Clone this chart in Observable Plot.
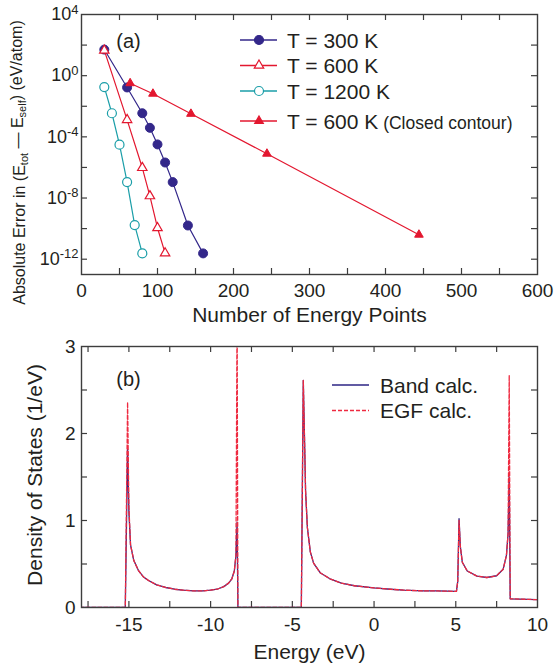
<!DOCTYPE html>
<html>
<head>
<meta charset="utf-8">
<script src="https://cdn.jsdelivr.net/npm/d3@7"></script>
<script src="https://cdn.jsdelivr.net/npm/@observablehq/plot@0.6"></script>
<style>
  body { margin: 0; background: #fff; }
  #chart { width: 554px; height: 668px; font-family: "Liberation Sans", Arial, sans-serif; color: #231f20; }
  svg { display: block; }
</style>
</head>
<body>
<div id="chart"></div>
<script>
// ---------------- Panel (a) data ----------------
const seriesNames = ["T = 300 K", "T = 600 K", "T = 1200 K", "T = 600 K", "(Closed contour)"];
const nPts300 = [30, 60, 80, 90, 100, 110, 120, 140, 160];
const err300 = [51, 0.17, 3.5e-3, 3.9e-4, 3.2e-5, 2.1e-6, 1.1e-7, 1.6e-10, 2.4e-12];
const nPts600 = [30, 60, 80, 90, 100, 110];
const err600 = [45, 1.3e-3, 9.5e-7, 1.35e-8, 1.1e-10, 2.5e-12];
const nPts1200 = [30, 40, 50, 60, 70, 80];
const err1200 = [0.18, 3.5e-3, 3.1e-5, 1.1e-7, 1.7e-10, 2.4e-12];
const nPtsClosed = [64, 94, 144, 244, 444];
const errClosed = [0.32, 0.066, 3.2e-3, 7.9e-6, 4.0e-11];
const xTickLabelsA = [0, 100, 200, 300, 400, 500, 600];
const xTickMarksA = [50, 100, 150, 200, 250, 300, 350, 400, 450, 500, 550];
const yTickLabelsA = [1e4, 1, 1e-4, 1e-8, 1e-12];
const yTickMarksA = [1e2, 1, 1e-2, 1e-4, 1e-6, 1e-8, 1e-10, 1e-12];

// ---------------- Panel (b) data ----------------
const energy = [-18, -15.22, -15.08, -15.0, -14.9, -14.7, -14.4, -14.1, -13.8, -13.3, -12.75, -12.2, -11.7, -11.0, -10.5, -10.0, -9.6, -9.2, -8.9, -8.7, -8.55, -8.45, -8.38, -8.33,
  -4.45, -4.33, -4.25, -4.19, -4.08, -3.9, -3.7, -3.3, -2.7, -2.0, -1.2, 0, 1.0, 1.8, 3.0, 3.9, 5.04, 5.12, 5.2, 5.28, 5.4, 5.7, 6.3, 6.9, 7.5, 7.9, 8.1, 8.2, 8.27, 8.33, 10];
const dosBand = [0, 0, 1.82, 1.1, 0.72, 0.54, 0.42, 0.35, 0.31, 0.26, 0.23, 0.21, 0.2, 0.19, 0.19, 0.2, 0.21, 0.24, 0.28, 0.33, 0.42, 0.6, 0.98, 0,
  0, 2.61, 1.9, 1.34, 0.92, 0.64, 0.51, 0.4, 0.33, 0.28, 0.25, 0.225, 0.21, 0.2, 0.19, 0.19, 0.185, 0.3, 1.02, 0.7, 0.52, 0.42, 0.36, 0.345, 0.365, 0.44, 0.6, 0.85, 1.5, 0.1, 0.09];
const dosEGF = [0, 0, 2.36, 1.15, 0.72, 0.54, 0.42, 0.35, 0.31, 0.26, 0.23, 0.21, 0.2, 0.19, 0.19, 0.2, 0.21, 0.24, 0.28, 0.33, 0.42, 0.6, 3.4, 0,
  0, 2.61, 1.9, 1.34, 0.92, 0.64, 0.51, 0.4, 0.33, 0.28, 0.25, 0.225, 0.21, 0.2, 0.19, 0.19, 0.185, 0.3, 1.0, 0.7, 0.52, 0.42, 0.36, 0.345, 0.365, 0.44, 0.6, 0.85, 2.67, 0.1, 0.09];
const bandLegend = ["Band calc.", "EGF calc."];
const xTickLabelsB = [-15, -10, -5, 0, 5, 10];
const xTickMarksB = [-17.5, -15, -12.5, -10, -7.5, -5, -2.5, 0, 2.5, 5, 7.5];
const yTickLabelsB = [0, 1, 2, 3];
const yTickMarksB = [0.5, 1, 1.5, 2, 2.5];

// ---------------- styles ----------------
const FONT = "Liberation Sans, Arial, sans-serif";
const INK = "#231f20";
const FRAME = "#3d3d3d";
const C300 = "#33278a";
const CRED = "#e3172f";
const CTEAL = "#1a9ea8";
const CBAND = "#2c2585";
const CEGF = "#ee2a40";
const TICK = 6;
const W = 554;

const zip = (xs, ys, kx, ky) => xs.map((x, i) => ({[kx]: x, [ky]: ys[i]}));
const d300 = zip(nPts300, err300, "n", "err");
const d600 = zip(nPts600, err600, "n", "err");
const d1200 = zip(nPts1200, err1200, "n", "err");
const dClosed = zip(nPtsClosed, errClosed, "n", "err");
const dos = energy.map((e, i) => ({e, band: dosBand[i], egf: dosEGF[i]}));

const chart = document.getElementById("chart");

// ---------------- Panel (a) ----------------
const A = {h: 325, top: 14, bottom: 51, left: 81, right: 17};
const iwA = W - A.left - A.right, ihA = A.h - A.top - A.bottom;
const rDot = 4.5, rTri = 3.2;
const yLabelA = "Absolute Error in (E_tot — E_self) (eV/atom)";

const plotA = Plot.plot({
  width: W, height: A.h,
  marginTop: A.top, marginBottom: A.bottom, marginLeft: A.left, marginRight: A.right,
  style: {fontFamily: FONT, fontSize: "19px", color: INK, background: "white", overflow: "visible"},
  x: {domain: [0, 600], ticks: xTickLabelsA, tickSize: 0, tickPadding: 9, label: null},
  y: {type: "log", domain: [1e-13, 1e4], ticks: yTickLabelsA, tickSize: 0, tickPadding: 3, label: null,
      tickFormat: d => "10^" + Math.round(Math.log10(d))},
  marks: [
    Plot.tickX(xTickMarksA, {x: d => d, insetTop: ihA - TICK, stroke: FRAME, strokeWidth: 1.2}),
    Plot.tickX(xTickMarksA, {x: d => d, insetBottom: ihA - TICK, stroke: FRAME, strokeWidth: 1.2}),
    Plot.tickY(yTickMarksA, {y: d => d, insetRight: iwA - TICK, stroke: FRAME, strokeWidth: 1.2}),
    Plot.tickY(yTickMarksA, {y: d => d, insetLeft: iwA - TICK, stroke: FRAME, strokeWidth: 1.2}),
    Plot.line(d300, {x: "n", y: "err", stroke: C300, strokeWidth: 1.2}),
    Plot.dot(d300, {x: "n", y: "err", r: rDot, fill: C300, stroke: C300, strokeWidth: 1}),
    Plot.line(d1200, {x: "n", y: "err", stroke: CTEAL, strokeWidth: 1.2}),
    Plot.dot(d1200, {x: "n", y: "err", r: rDot, fill: "white", stroke: CTEAL, strokeWidth: 1.2}),
    Plot.line(dClosed, {x: "n", y: "err", stroke: CRED, strokeWidth: 1.2}),
    Plot.dot(dClosed, {x: "n", y: "err", symbol: "triangle", r: rTri, fill: CRED, stroke: CRED, strokeWidth: 1}),
    Plot.line(d600, {x: "n", y: "err", stroke: CRED, strokeWidth: 1.2}),
    Plot.dot(d600, {x: "n", y: "err", symbol: "triangle", r: rTri + 0.3, fill: "white", stroke: CRED, strokeWidth: 1.2}),
    Plot.frame({stroke: FRAME, strokeWidth: 1.4}),
    Plot.text(["(a)"], {frameAnchor: "top-left", dx: 47, dy: 27, textAnchor: "middle", lineAnchor: "middle", fontSize: 20, fill: INK}),
    Plot.text(["Number of Energy Points"], {frameAnchor: "bottom", dy: 41, textAnchor: "middle", lineAnchor: "middle", fontSize: 21, fill: INK}),
    Plot.text([yLabelA], {frameAnchor: "left", rotate: -90, dx: -62, dy: 18, textAnchor: "middle", lineAnchor: "middle", fontSize: 16, fill: INK})
  ]
});
chart.appendChild(plotA);

// superscripts on log tick labels
d3.select(plotA).selectAll('g[aria-label="y-axis tick label"] text').each(function () {
  const t = d3.select(this);
  const s = this.textContent;
  if (!s.includes("^")) return;
  const [base, exp] = s.split("^");
  t.text(null);
  t.append("tspan").text(base);
  t.append("tspan").attr("dy", "-0.5em").attr("font-size", 13).text(exp);
});
d3.select(plotA).selectAll('g[aria-label="y-axis tick label"]').attr("font-size", 18);
d3.select(plotA).selectAll('g[aria-label="x-axis tick label"]').attr("font-size", 19);

// subscripts in the y label
d3.select(plotA).selectAll("text").filter(function () { return this.textContent === yLabelA; }).each(function () {
  const t = d3.select(this);
  const parts = yLabelA.split(/_(tot|self)/);
  t.text(null);
  parts.forEach((p, i) => {
    if (i % 2 === 1) {
      t.append("tspan").attr("dy", "0.3em").attr("font-size", 11).text(p);
    } else if (i > 0) {
      t.append("tspan").attr("dy", "-0.3em").text(p);
    } else {
      t.append("tspan").text(p);
    }
  });
});

// legend (a)
(function () {
  const g = d3.select(plotA).append("g").attr("font-family", FONT).attr("fill", INK).attr("text-anchor", "start");
  const rows = [
    {y: 40, name: seriesNames[0], color: C300, sym: "circle", fill: C300},
    {y: 65.5, name: seriesNames[1], color: CRED, sym: "triangle", fill: "white"},
    {y: 91, name: seriesNames[2], color: CTEAL, sym: "circle", fill: "white"},
    {y: 121, name: seriesNames[3], extra: seriesNames[4], color: CRED, sym: "triangle", fill: CRED}
  ];
  rows.forEach(r => {
    g.append("line").attr("x1", 240).attr("x2", 277).attr("y1", r.y).attr("y2", r.y)
      .attr("stroke", r.color).attr("stroke-width", 1.3);
    if (r.sym === "circle") {
      g.append("circle").attr("cx", 259).attr("cy", r.y).attr("r", rDot)
        .attr("fill", r.fill).attr("stroke", r.color).attr("stroke-width", 1.2);
    } else {
      const rr = r.fill === "white" ? rTri + 0.3 : rTri;
      g.append("path").attr("d", d3.symbol(d3.symbolTriangle, Math.PI * rr * rr)())
        .attr("transform", `translate(259,${r.y})`)
        .attr("fill", r.fill).attr("stroke", r.color).attr("stroke-width", 1.2);
    }
    const t = g.append("text").attr("x", 287).attr("y", r.y + 7.5).attr("font-size", 21).attr("text-anchor", "start").text(r.name);
    if (r.extra) t.append("tspan").attr("font-size", 17.5).text(" " + r.extra);
  });
})();

// ---------------- Panel (b) ----------------
const B = {h: 343, top: 21, bottom: 61, left: 81, right: 17};
const iwB = W - B.left - B.right, ihB = B.h - B.top - B.bottom;

const plotB = Plot.plot({
  width: W, height: B.h,
  marginTop: B.top, marginBottom: B.bottom, marginLeft: B.left, marginRight: B.right,
  style: {fontFamily: FONT, fontSize: "19px", color: INK, background: "white", overflow: "visible"},
  x: {domain: [-17.9, 10], ticks: xTickLabelsB, tickSize: 0, tickPadding: 10, label: null, tickFormat: d => String(d)},
  y: {domain: [0, 3], ticks: yTickLabelsB, tickSize: 0, tickPadding: 6, label: null, tickFormat: d => String(d)},
  marks: [
    Plot.tickX(xTickMarksB, {x: d => d, insetTop: ihB - TICK, stroke: FRAME, strokeWidth: 1.2}),
    Plot.tickX(xTickMarksB, {x: d => d, insetBottom: ihB - TICK, stroke: FRAME, strokeWidth: 1.2}),
    Plot.tickY(yTickMarksB, {y: d => d, insetRight: iwB - TICK, stroke: FRAME, strokeWidth: 1.2}),
    Plot.tickY(yTickMarksB, {y: d => d, insetLeft: iwB - TICK, stroke: FRAME, strokeWidth: 1.2}),
    Plot.line(dos, {x: "e", y: "band", stroke: CBAND, strokeWidth: 1.3, clip: true}),
    Plot.line(dos, {x: "e", y: "egf", stroke: CEGF, strokeWidth: 1.3, strokeDasharray: "4,2", clip: true}),
    Plot.frame({stroke: FRAME, strokeWidth: 1.4}),
    Plot.text(["(b)"], {frameAnchor: "top-left", dx: 47, dy: 33, textAnchor: "middle", lineAnchor: "middle", fontSize: 20, fill: INK}),
    Plot.text(["Energy (eV)"], {frameAnchor: "bottom", dy: 45, textAnchor: "middle", lineAnchor: "middle", fontSize: 21, fill: INK}),
    Plot.text(["Density of States (1/eV)"], {frameAnchor: "left", rotate: -90, dx: -46, dy: -2, textAnchor: "middle", lineAnchor: "middle", fontSize: 21, fill: INK})
  ]
});
chart.appendChild(plotB);
d3.select(plotB).selectAll('g[aria-label="y-axis tick label"], g[aria-label="x-axis tick label"]').attr("font-size", 19);

// legend (b)
(function () {
  const g = d3.select(plotB).append("g").attr("font-family", FONT).attr("fill", INK).attr("text-anchor", "start");
  const rows = [
    {y: 60, name: bandLegend[0], color: CBAND, dash: null},
    {y: 85.5, name: bandLegend[1], color: CEGF, dash: "4,2"}
  ];
  rows.forEach(r => {
    g.append("line").attr("x1", 332).attr("x2", 369).attr("y1", r.y).attr("y2", r.y)
      .attr("stroke", r.color).attr("stroke-width", 1.3).attr("stroke-dasharray", r.dash);
    g.append("text").attr("x", 380).attr("y", r.y + 7.5).attr("font-size", 21).attr("text-anchor", "start").text(r.name);
  });
})();
</script>
</body>
</html>
